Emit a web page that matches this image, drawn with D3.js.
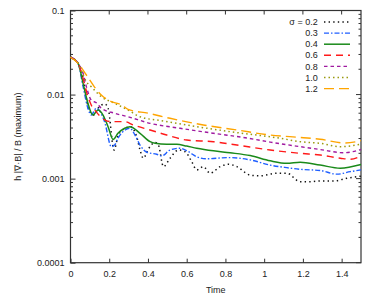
<!DOCTYPE html>
<html>
<head>
<meta charset="utf-8">
<script src="https://cdn.jsdelivr.net/npm/d3@7"></script>
<style>
  html, body { margin: 0; padding: 0; background: #fff; }
  svg text { font-family: "Liberation Sans", Arial, sans-serif; fill: #222; }
</style>
</head>
<body>
<div id="chart"></div>
<script>
// series data (time, value)
var sigmaLabels = ["σ = 0.2", "0.3", "0.4", "0.6", "0.8", "1.0", "1.2"];

var tBlack = [0, 0.039, 0.065, 0.082, 0.099, 0.125, 0.142, 0.178, 0.194, 0.225, 0.247, 0.282, 0.307, 0.342, 0.359, 0.376, 0.402, 0.437, 0.454, 0.48, 0.514, 0.557, 0.592, 0.626, 0.652, 0.686, 0.721, 0.773, 0.816, 0.859, 0.928, 0.979, 1.066, 1.117, 1.186, 1.238, 1.289, 1.36, 1.427, 1.5];
var vBlack = [0.0278, 0.0235, 0.0156, 0.0090, 0.00625, 0.00571, 0.00687, 0.0077, 0.0069, 0.00219, 0.0033, 0.00397, 0.00415, 0.00315, 0.00219, 0.00175, 0.00225, 0.0027, 0.00251, 0.00139, 0.00175, 0.00219, 0.00209, 0.00159, 0.00127, 0.00139, 0.00116, 0.00139, 0.00148, 0.00139, 0.0011, 0.00108, 0.00116, 0.00116, 0.00092, 0.00092, 0.00094, 0.00094, 0.00101, 0.00107];

var tBlue = [0, 0.039, 0.065, 0.09, 0.107, 0.133, 0.176, 0.211, 0.228, 0.245, 0.282, 0.307, 0.333, 0.359, 0.394, 0.445, 0.471, 0.514, 0.566, 0.609, 0.652, 0.704, 0.756, 0.824, 0.928, 1.031, 1.117, 1.186, 1.289, 1.376, 1.444, 1.5];
var vBlue = [0.0278, 0.0235, 0.0124, 0.00687, 0.00571, 0.00687, 0.00476, 0.0024, 0.00251, 0.00302, 0.00379, 0.00397, 0.0033, 0.00251, 0.00206, 0.00195, 0.00186, 0.00219, 0.0023, 0.00209, 0.00182, 0.00172, 0.00175, 0.00178, 0.00167, 0.00145, 0.00135, 0.00129, 0.00125, 0.00113, 0.00121, 0.00127];

var tGreen = [0, 0.039, 0.065, 0.09, 0.116, 0.142, 0.168, 0.194, 0.22, 0.245, 0.28, 0.307, 0.359, 0.411, 0.437, 0.497, 0.549, 0.6, 0.652, 0.738, 0.824, 0.928, 1.031, 1.117, 1.186, 1.289, 1.393, 1.5];
var vGreen = [0.0278, 0.0236, 0.0136, 0.00787, 0.00571, 0.00655, 0.00571, 0.00415, 0.00293, 0.00346, 0.00397, 0.00415, 0.00346, 0.00275, 0.00263, 0.00256, 0.00256, 0.00244, 0.0023, 0.00214, 0.00203, 0.00188, 0.00163, 0.00152, 0.00157, 0.00145, 0.00133, 0.00147];

var tRed = [0, 0.039, 0.065, 0.09, 0.107, 0.125, 0.178, 0.211, 0.28, 0.324, 0.411, 0.497, 0.6, 0.738, 0.859, 1.031, 1.186, 1.289, 1.393, 1.444, 1.5];
var vRed = [0.0278, 0.0235, 0.0156, 0.00943, 0.00752, 0.00655, 0.00498, 0.00476, 0.00476, 0.00435, 0.00379, 0.0033, 0.00288, 0.00275, 0.00251, 0.00219, 0.002, 0.00191, 0.00175, 0.0017, 0.00186];

var tPurple = [0, 0.039, 0.065, 0.082, 0.107, 0.135, 0.159, 0.228, 0.297, 0.411, 0.566, 0.738, 0.919, 1.031, 1.186, 1.289, 1.41, 1.5];
var vPurple = [0.0278, 0.0236, 0.0179, 0.0124, 0.00862, 0.00794, 0.00687, 0.00599, 0.00545, 0.00455, 0.00397, 0.00346, 0.00302, 0.00272, 0.0024, 0.00222, 0.00203, 0.00222];

var tOlive = [0, 0.039, 0.055, 0.082, 0.107, 0.159, 0.228, 0.297, 0.359, 0.48, 0.652, 0.824, 1.083, 1.186, 1.289, 1.393, 1.5];
var vOlive = [0.0278, 0.0236, 0.0196, 0.0142, 0.0124, 0.00943, 0.00787, 0.00655, 0.00545, 0.00485, 0.00415, 0.00362, 0.00302, 0.00275, 0.00263, 0.0024, 0.00257];

var tOrange = [0, 0.039, 0.082, 0.125, 0.159, 0.211, 0.265, 0.297, 0.402, 0.514, 0.686, 0.859, 1.031, 1.203, 1.289, 1.42, 1.5];
var vOrange = [0.0278, 0.0236, 0.0171, 0.0122, 0.00988, 0.00823, 0.00752, 0.00668, 0.00599, 0.00522, 0.00435, 0.00379, 0.0033, 0.00307, 0.00294, 0.00265, 0.00283];

var xTicks = [0, 0.2, 0.4, 0.6, 0.8, 1, 1.2, 1.4];
var xTickLabels = ["0", "0.2", "0.4", "0.6", "0.8", "1", "1.2", "1.4"];
var yTicks = [0.1, 0.01, 0.001, 0.0001];
var yTickLabels = ["0.1", "0.01", "0.001", "0.0001"];

var series = [
    {t: tBlack, v: vBlack, color: "#111111", dash: "1.4,3.2", width: 1.5},
    {t: tBlue, v: vBlue, color: "#1f5fff", dash: "5,2,1.5,2", width: 1.4},
    {t: tGreen, v: vGreen, color: "#1a8a1a", dash: null, width: 1.5},
    {t: tRed, v: vRed, color: "#ff1a1a", dash: "7,5", width: 1.4},
    {t: tPurple, v: vPurple, color: "#a01aa0", dash: "3.5,3", width: 1.4},
    {t: tOlive, v: vOlive, color: "#9a9a10", dash: "1.5,3", width: 1.5},
    {t: tOrange, v: vOrange, color: "#ffa500", dash: "10,5", width: 1.4}
];

var W = 374, H = 299;
// plot box (window.top is read-only, so no plain "top" here)
var pL = 70.5, pR = 361, pT = 10.5, pB = 262.7;

var svg = d3.select("#chart").append("svg")
    .attr("width", W)
    .attr("height", H);

var x = d3.scaleLinear().domain([0, 1.5]).range([pL, pR]);
var y = d3.scaleLog().domain([0.0001, 0.1]).range([pB, pT]);

// minor log ticks (2..9 of each decade)
var minor = y.ticks().filter(function (d) {
    return Math.abs(Math.log10(d) - Math.round(Math.log10(d))) > 1e-6;
});

var axisColor = "#333";

// bottom axis, ticks inward
var gx = svg.append("g")
    .attr("transform", "translate(0," + pB + ")")
    .call(d3.axisBottom(x).tickValues(xTicks)
        .tickFormat(function (d, i) { return xTickLabels[i]; })
        .tickSizeInner(-4).tickSizeOuter(0).tickPadding(8));
gx.select(".domain").remove();
gx.selectAll("line").attr("stroke", axisColor);
gx.selectAll("text").style("font-size", "9px");

// top ticks
svg.append("g").selectAll("line").data(xTicks).enter().append("line")
    .attr("x1", function (d) { return x(d); })
    .attr("x2", function (d) { return x(d); })
    .attr("y1", pT).attr("y2", pT + 4)
    .attr("stroke", axisColor);

// left axis
var gy = svg.append("g")
    .attr("transform", "translate(" + pL + ",0)")
    .call(d3.axisLeft(y).tickValues(yTicks)
        .tickFormat(function (d, i) { return yTickLabels[i]; })
        .tickSizeInner(-5).tickSizeOuter(0).tickPadding(6));
gy.select(".domain").remove();
gy.selectAll("line").attr("stroke", axisColor);
gy.selectAll("text").style("font-size", "9px");

// right major ticks, minor ticks both sides
svg.append("g").selectAll("line").data(yTicks).enter().append("line")
    .attr("x1", pR - 5).attr("x2", pR)
    .attr("y1", function (d) { return y(d); })
    .attr("y2", function (d) { return y(d); })
    .attr("stroke", axisColor);
[pL, pR].forEach(function (edge) {
    var dir = edge === pL ? 1 : -1;
    svg.append("g").selectAll("line").data(minor).enter().append("line")
        .attr("x1", edge).attr("x2", edge + dir * 2.5)
        .attr("y1", function (d) { return y(d); })
        .attr("y2", function (d) { return y(d); })
        .attr("stroke", axisColor);
});

// frame
svg.append("rect")
    .attr("x", pL).attr("y", pT)
    .attr("width", pR - pL).attr("height", pB - pT)
    .attr("fill", "none")
    .attr("stroke", axisColor)
    .attr("stroke-width", 1.2);

// curves
var line = d3.line()
    .x(function (d) { return x(d[0]); })
    .y(function (d) { return y(d[1]); })
    .curve(d3.curveMonotoneX);

var plot = svg.append("g");
series.forEach(function (s) {
    var pts = s.t.map(function (t, i) { return [t, s.v[i]]; });
    plot.append("path")
        .datum(pts)
        .attr("d", line)
        .attr("fill", "none")
        .attr("stroke", s.color)
        .attr("stroke-width", s.width)
        .attr("stroke-dasharray", s.dash);
});

// legend
var legend = svg.append("g");
series.forEach(function (s, i) {
    var cy = 22 + i * 11.1;
    legend.append("text")
        .attr("x", 317.7).attr("y", cy)
        .attr("dy", "0.35em")
        .attr("text-anchor", "end")
        .style("font-size", "9px")
        .text(sigmaLabels[i]);
    legend.append("line")
        .attr("x1", 324).attr("x2", 350)
        .attr("y1", cy).attr("y2", cy)
        .attr("stroke", s.color)
        .attr("stroke-width", s.width)
        .attr("stroke-dasharray", s.dash);
});

// axis titles
svg.append("text")
    .attr("x", (pL + pR) / 2).attr("y", 293)
    .attr("text-anchor", "middle")
    .style("font-size", "9px")
    .text("Time");

svg.append("text")
    .attr("transform", "translate(21," + ((pT + pB) / 2) + ") rotate(-90)")
    .attr("text-anchor", "middle")
    .style("font-size", "9px")
    .text("h |∇·B| / B (maximum)");
</script>
</body>
</html>
